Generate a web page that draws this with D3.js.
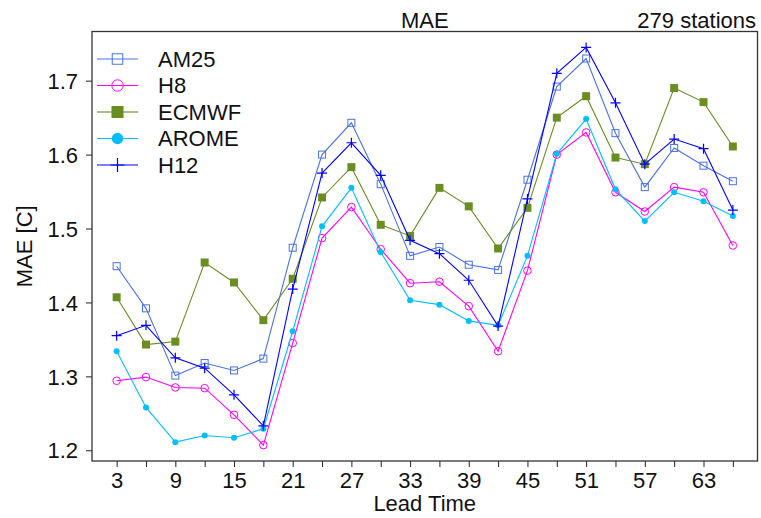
<!DOCTYPE html>
<html><head><meta charset="utf-8">
<script src="https://cdn.jsdelivr.net/npm/d3@7"></script>
<style>body{margin:0;background:#fff}svg{display:block}text{font-family:"Liberation Sans",Arial,sans-serif;fill:#111}</style>
</head><body><svg id="c" width="761" height="518"></svg>
<script>
const leadTimes = [3,6,9,12,15,18,21,24,27,30,33,36,39,42,45,48,51,54,57,60,63,66];
const am25  = [1.449,1.392,1.301,1.318,1.308,1.324,1.474,1.600,1.643,1.560,1.463,1.475,1.451,1.444,1.566,1.692,1.730,1.629,1.556,1.609,1.585,1.564];
const h8    = [1.294,1.299,1.285,1.284,1.248,1.207,1.345,1.487,1.529,1.472,1.426,1.428,1.395,1.334,1.443,1.600,1.630,1.549,1.523,1.556,1.549,1.477];
const ecmwf = [1.407,1.343,1.347,1.454,1.427,1.376,1.432,1.542,1.583,1.505,1.490,1.555,1.530,1.473,1.528,1.650,1.679,1.596,1.587,1.690,1.671,1.611];
const arome = [1.334,1.258,1.211,1.220,1.217,1.229,1.361,1.503,1.555,1.468,1.403,1.397,1.375,1.369,1.463,1.601,1.648,1.553,1.510,1.549,1.537,1.517];
const h12   = [1.355,1.369,1.325,1.311,1.275,1.233,1.418,1.575,1.616,1.572,1.484,1.466,1.430,1.368,1.540,1.710,1.745,1.670,1.587,1.621,1.608,1.525];
const seriesNames = ["AM25","H8","ECMWF","AROME","H12"];
const yTicks = [1.2,1.3,1.4,1.5,1.6,1.7];
const xLabelTicks = [3,9,15,21,27,33,39,45,51,57,63];

const series = [
  {name:"AM25", vals:am25, color:"#4a72e6", marker:"sqOpen"},
  {name:"H8", vals:h8, color:"#ff00ff", marker:"circOpen"},
  {name:"ECMWF", vals:ecmwf, color:"#6b8e23", marker:"sqFill", legendLine:"#a9bd84"},
  {name:"AROME", vals:arome, color:"#00bfff", marker:"circFill"},
  {name:"H12", vals:h12, color:"#0000ff", marker:"plus"}
];

const L=92,R=757.5,T=31.5,B=461;
const xmin=3,xmax=66,ymin=1.207,ymax=1.745;
const xs=d3.scaleLinear().domain([xmin-(xmax-xmin)*0.04, xmax+(xmax-xmin)*0.04]).range([L,R]);
const ys=d3.scaleLinear().domain([ymin-(ymax-ymin)*0.04, ymax+(ymax-ymin)*0.04]).range([B,T]);
const FS=22;

const svg=d3.select("#c");

function drawMarker(g,type,x,y,color,scale){
  const s=scale||1;
  if(type==="sqOpen"){const h=3.5*s;g.append("rect").attr("x",x-h).attr("y",y-h).attr("width",2*h).attr("height",2*h).attr("fill","none").attr("stroke",color).attr("stroke-width",1);}
  else if(type==="sqFill"){const h=4*s;g.append("rect").attr("x",x-h).attr("y",y-h).attr("width",2*h).attr("height",2*h).attr("fill",color);}
  else if(type==="circOpen"){g.append("circle").attr("cx",x).attr("cy",y).attr("r",3.8*s).attr("fill","none").attr("stroke",color).attr("stroke-width",1);}
  else if(type==="circFill"){g.append("circle").attr("cx",x).attr("cy",y).attr("r",3*s).attr("fill",color);}
  else if(type==="plus"){const h=5*s;g.append("path").attr("d",`M${x-h},${y}H${x+h}M${x},${y-h}V${y+h}`).attr("stroke",color).attr("stroke-width",1.2);}
}

// axes
const yAxis=d3.axisLeft(ys).tickValues(yTicks).tickSize(6).tickPadding(8).tickFormat(d3.format(".1f"));
const gy=svg.append("g").attr("transform",`translate(${L},0)`).call(yAxis);
gy.select(".domain").remove();
gy.selectAll("text").attr("font-size",FS).attr("dy","0.35em");
gy.selectAll("line").attr("stroke","#222");

const xAxis=d3.axisBottom(xs).tickValues(leadTimes).tickSize(6).tickPadding(5).tickFormat(d=>xLabelTicks.includes(d)?d:"");
const gx=svg.append("g").attr("transform",`translate(0,${B})`).call(xAxis);
gx.select(".domain").remove();
gx.selectAll("text").attr("font-size",FS);
gx.selectAll("line").attr("stroke","#222");

// lines & markers
const line=d3.line().x((d,i)=>xs(leadTimes[i])).y(d=>ys(d));
series.forEach(s=>{
  svg.append("path").datum(s.vals).attr("d",line).attr("fill","none").attr("stroke",s.color).attr("stroke-width",1.1);
  const g=svg.append("g");
  s.vals.forEach((v,i)=>drawMarker(g,s.marker,xs(leadTimes[i]),ys(v),s.color,1));
});

// frame
svg.append("rect").attr("x",L).attr("y",T).attr("width",R-L).attr("height",B-T).attr("fill","none").attr("stroke","#333").attr("stroke-width",1.3);

// legend
const lg=svg.append("g");
series.forEach((s,i)=>{
  const y=59+i*26.5;
  lg.append("line").attr("x1",97).attr("x2",138).attr("y1",y).attr("y2",y).attr("stroke",s.legendLine||s.color).attr("stroke-width",s.legendLine?2:1.2);
  drawMarker(lg,s.marker,117.5,y,s.color,s.marker==="plus"?1.4:(s.marker==="circFill"?1.9:1.5));
  lg.append("text").attr("x",158).attr("y",y).attr("dy","0.36em").attr("font-size",FS).text(s.name);
});

// titles
svg.append("text").attr("x",(L+R)/2).attr("y",28).attr("text-anchor","middle").attr("font-size",FS).text("MAE");
svg.append("text").attr("x",756).attr("y",28).attr("text-anchor","end").attr("font-size",FS).text("279 stations");
svg.append("text").attr("x",(L+R)/2).attr("y",511).attr("text-anchor","middle").attr("font-size",FS).text("Lead Time");
svg.append("text").attr("transform",`translate(32,${(T+B)/2}) rotate(-90)`).attr("text-anchor","middle").attr("font-size",FS).text("MAE [C]");
</script></body></html>
